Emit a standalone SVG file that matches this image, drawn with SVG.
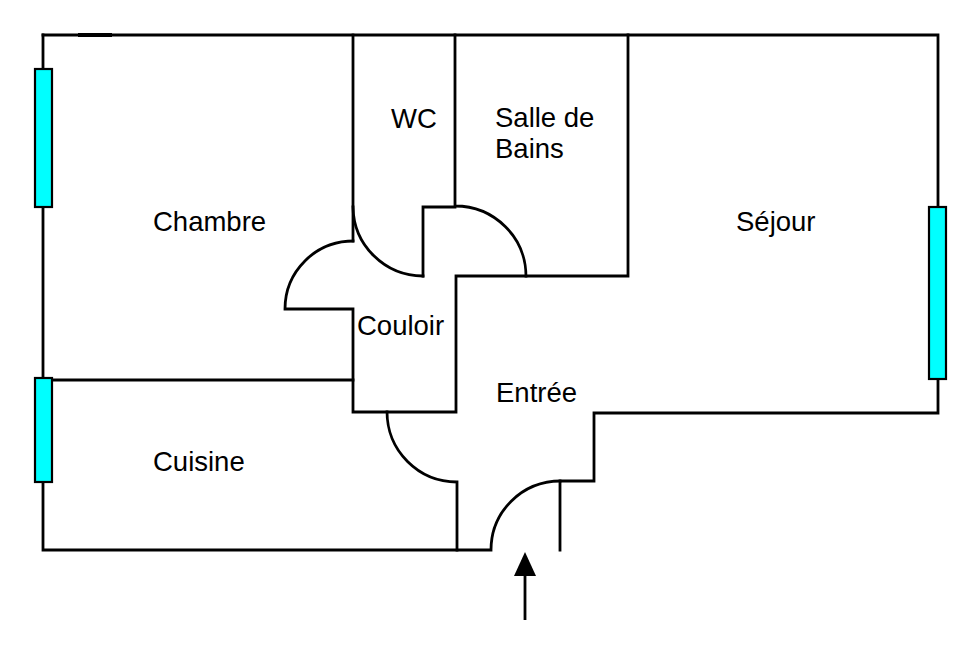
<svg xmlns="http://www.w3.org/2000/svg" width="980" height="653" viewBox="0 0 980 653">
<style>
.w{fill:none;stroke:#000;stroke-width:2.8;stroke-linecap:square;stroke-linejoin:miter}
.win{fill:#00FFFF;stroke:#000;stroke-width:2.2}
.t{font-family:"Liberation Sans",Arial,sans-serif;font-size:27.5px;fill:#000}
</style>
<rect width="980" height="653" fill="#fff"/>
<g id="walls">
<path class="w" d="M43,35 H938 V413 H594 V481 H560 V550"/>
<path class="w" d="M560,481 A69,69 0 0 0 491,550 H43 V35"/>
<line x1="78" y1="35" x2="112" y2="35" stroke="#000" stroke-width="4"/>
<path class="w" d="M353,35 V241"/>
<path class="w" d="M353,241 A68,68 0 0 0 285,309 H353 V412 H456 V276 H628 V35"/>
<path class="w" d="M526,276 A71,70 0 0 0 455,206 V35"/>
<path class="w" d="M455,207 H423 V276"/>
<path class="w" d="M353,207 A70,70 0 0 0 423,276"/>
<path class="w" d="M43,380 H353"/>
<path class="w" d="M387,412 A70,70 0 0 0 457,482 V550"/>
</g>
<g id="windows">
<rect class="win" x="35" y="69" width="17" height="138"/>
<rect class="win" x="35" y="378" width="17" height="104"/>
<rect class="win" x="929" y="207" width="17" height="172"/>
</g>
<g id="entry-arrow">
<line x1="525" y1="620" x2="525" y2="572" stroke="#000" stroke-width="2.8"/>
<polygon points="525,552 514,576 536,576" fill="#000"/>
</g>
<g id="labels">
<text class="t" x="153" y="231">Chambre</text>
<text class="t" x="391" y="128">WC</text>
<text class="t" x="495" y="127">Salle de</text>
<text class="t" x="495" y="158">Bains</text>
<text class="t" x="736" y="231">Séjour</text>
<text class="t" x="357" y="335">Couloir</text>
<text class="t" x="496" y="402">Entrée</text>
<text class="t" x="153" y="471">Cuisine</text>
</g>
</svg>
